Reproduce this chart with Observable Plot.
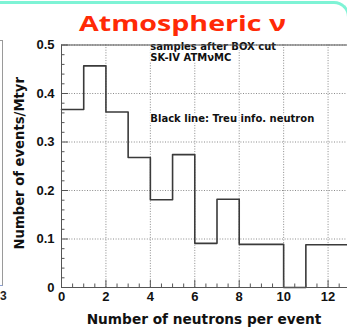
<!DOCTYPE html>
<html><head><meta charset="utf-8">
<script src="https://cdn.jsdelivr.net/npm/d3@7"></script>
<script src="https://cdn.jsdelivr.net/npm/@observablehq/plot@0.6"></script>
<style>
html,body{margin:0;padding:0;background:#fff;}
body{width:347px;height:327px;overflow:hidden;position:relative;}
#chart{position:absolute;left:0;top:0;width:400px;}
#chart svg{max-width:none !important;}
#border{position:absolute;left:-6px;top:1px;width:356px;height:60px;border:3px solid #7ef3d5;border-left:none;border-bottom:none;border-top-right-radius:16px;box-sizing:border-box;}
#leftpanel{position:absolute;left:-9px;top:40px;width:12px;height:246px;border:1px solid #9a9a9a;border-bottom-color:#8aa0d8;box-sizing:border-box;}
#leftlabel{position:absolute;left:0px;top:289px;font:bold 12px "Liberation Sans",sans-serif;color:#222;}
#title{position:absolute;left:0;top:11px;width:365px;text-align:center;font:bold 22px/1 "Open Sans",sans-serif;color:#ff2a06;transform:scaleX(1.3);white-space:nowrap;}
</style></head><body>
<div id="border"></div>
<div id="leftpanel"></div><div id="leftlabel">3</div>
<div id="title">Atmospheric ν</div>
<div id="chart"></div>
<script>
// histogram bins (lower edges) and contents
const binLow = [0,1,2,3,4,5,6,7,8,9,10,11,12];
const eventsPerMtyr = [0.367,0.457,0.362,0.268,0.181,0.274,0.091,0.182,0.089,0.089,0,0.088,0.088];
const binWidth = 1;
// axis ticks
const xMajor = [0,2,4,6,8,10,12,14];
const xLabels = [0,2,4,6,8,10,12];
const yMajor = [0,0.1,0.2,0.3,0.4,0.5];
const xMinor = [0.5,1,1.5,2.5,3,3.5,4.5,5,5.5,6.5,7,7.5,8.5,9,9.5,10.5,11,11.5,12.5,13,13.5];
const yMinor = [0.02,0.04,0.06,0.08,0.12,0.14,0.16,0.18,0.22,0.24,0.26,0.28,0.32,0.34,0.36,0.38,0.42,0.44,0.46,0.48];
// annotation texts
const notes = ["samples after BOX cut","SK-IV ATMνMC","Black line: Treu info. neutron"];
const noteX = [4,4,4];
const noteY = [0.4958,0.4732,0.3474];
const xTitle = "Number of neutrons per event";
const yTitle = "Number of events/Mtyr";

const lineData = binLow.map((x,i)=>({x, y: eventsPerMtyr[i]}));
lineData.push({x: binLow[binLow.length-1]+binWidth, y: eventsPerMtyr[eventsPerMtyr.length-1]});
const noteData = notes.map((t,i)=>({t, x: noteX[i], y: noteY[i]}));

const tickFont = {fontFamily:"Liberation Sans, Arial, sans-serif", fontWeight:"bold", fontSize:13, fill:"#111"};
const titleFont = {fontFamily:"DejaVu Sans, sans-serif", fontWeight:"bold", fill:"#111"};
const gridStyle = {stroke:"#8a8a8a", strokeDasharray:"1,1.6", strokeWidth:1};

const chart = Plot.plot({
  width: 400, height: 327,
  marginTop: 44.5, marginBottom: 40, marginLeft: 61, marginRight: 28,
  x: {domain:[0,14]},
  y: {domain:[0,0.5]},
  style: {background:"transparent", overflow:"visible", maxWidth:"none"},
  marks: [
    Plot.ruleX(xMajor.slice(1), {x:d=>d, ...gridStyle}),
    Plot.ruleY(yMajor.slice(1), {y:d=>d, ...gridStyle}),
    Plot.text(noteData, {x:"x", y:"y", text:"t", textAnchor:"start", fontFamily:"DejaVu Sans, sans-serif", fontWeight:"bold", fontSize:10, fill:"#111", stroke:"white", strokeWidth:3}),
    Plot.line(lineData, {x:"x", y:"y", curve:"step-after", stroke:"#3a3a3a", strokeWidth:1.6}),
    Plot.frame({stroke:"#555", strokeWidth:1}),
    Plot.ruleX(xMajor, {x:d=>d, y1:0, y2:0, insetTop:-7, stroke:"#555"}),
    Plot.ruleX(xMinor, {x:d=>d, y1:0, y2:0, insetTop:-3.5, stroke:"#555"}),
    Plot.ruleY(yMajor, {y:d=>d, x1:0, x2:0, insetRight:-7, stroke:"#555"}),
    Plot.ruleY(yMinor, {y:d=>d, x1:0, x2:0, insetRight:-3.5, stroke:"#555"}),
    Plot.axisX(xLabels, {tickSize:0, tickPadding:4, label:null, tickFormat:d=>String(d), ...tickFont}),
    Plot.axisY(yMajor, {tickSize:0, tickPadding:7, label:null, tickFormat:d=>d===0?"0":d.toFixed(1), ...tickFont}),
    Plot.text([xTitle], {frameAnchor:"bottom-left", dx:142.5, dy:36, text:d=>d, textAnchor:"middle", fontSize:13.7, ...titleFont}),
    Plot.text([yTitle], {frameAnchor:"left", dx:-41.5, dy:-3, rotate:-90, text:d=>d, textAnchor:"middle", fontSize:13.2, ...titleFont})
  ]
});
document.getElementById("chart").appendChild(chart);
</script>
</body></html>
